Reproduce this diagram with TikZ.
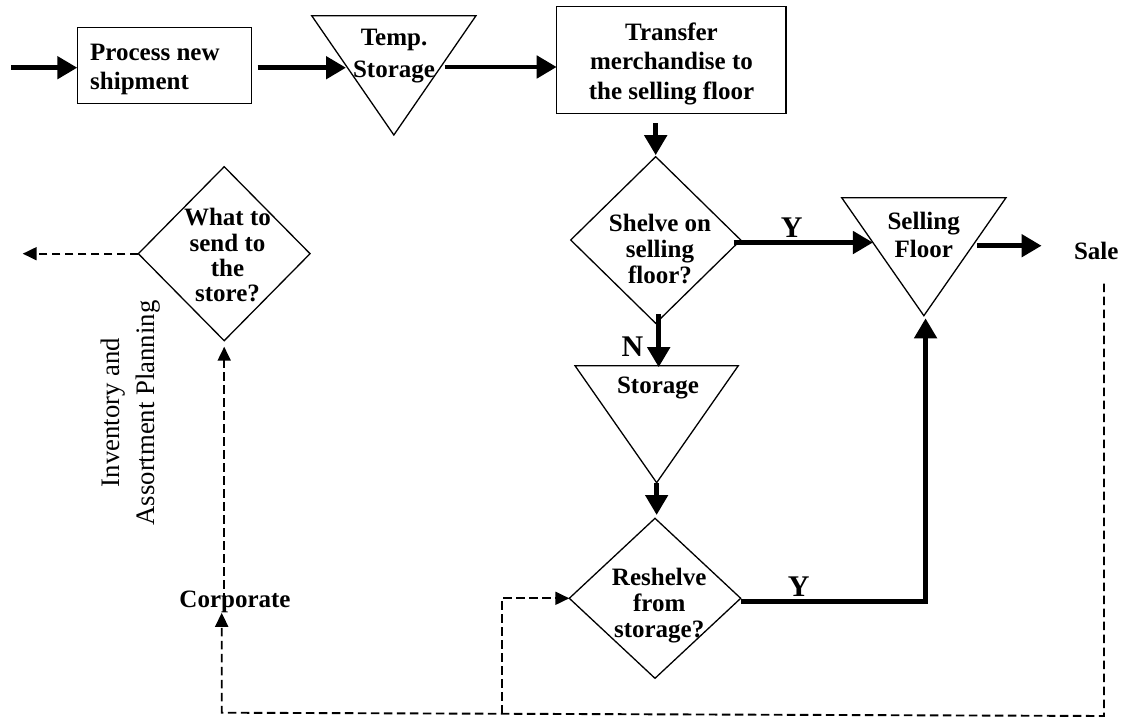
\documentclass[tikz,border=0pt]{standalone}
\usepackage{fontspec}
\setmainfont{Liberation Serif}
\usetikzlibrary{arrows.meta,calc}
\newcommand\tstrut{\rule{0pt}{20pt}}
\begin{document}
\begin{tikzpicture}[x=1pt,y=-1pt,
  holder/.style={inner sep=0pt, outer sep=0pt},
  shapeline/.style={draw=black, line width=1.3pt, line join=miter},
  boxnode/.style={draw=black, line width=1.3pt, inner sep=0pt, outer sep=0pt},
  tx/.style={font=\fontsize{25}{#1}\selectfont\bfseries, inner sep=0pt, align=center, anchor=north},
  tx/.default=28,
  txone/.style={font=\fontsize{25}{28}\selectfont\bfseries, inner sep=0pt, anchor=base},
  ynlab/.style={font=\fontsize{30}{32}\selectfont\bfseries, inner sep=0pt, anchor=base},
  sidelab/.style={font=\fontsize{26.7}{30}\selectfont, inner sep=0pt, anchor=base, rotate=90},
  solidarrow/.style={line width=4.8pt, -{Triangle[length=20pt,width=22pt]}},
  dasharrow/.style={line width=1.9pt, dash pattern=on 8.5pt off 4.5pt, -{Triangle[length=14pt,width=13pt]}},
]
\useasboundingbox (0,0) rectangle (1127,719);

% shapes
\node[boxnode, minimum width=174.4pt, minimum height=76pt] (box1) at (164.5,65.3) {};
\node[boxnode, minimum width=229.3pt, minimum height=106.6pt] (box3) at (671.35,60) {};
\node[holder, minimum width=164.3pt, minimum height=119.3pt] (temp) at (393.85,75.35) {};
\node[holder, minimum width=164.3pt, minimum height=118pt] (sell) at (923.85,256.7) {};
\node[holder, minimum width=163.3pt, minimum height=117pt] (stor) at (656.65,424.2) {};
\node[holder, minimum width=171.7pt, minimum height=174pt] (what) at (224.2,253.7) {};
\node[holder, minimum width=170pt, minimum height=166.6pt] (shelve) at (655.7,240) {};
\node[holder, minimum width=171.4pt, minimum height=160pt] (reshelve) at (655,598.3) {};

\draw[shapeline] (temp.north west) -- (temp.north east) -- (temp.south) -- cycle;
\draw[shapeline] (sell.north west) -- (sell.north east) -- (sell.south) -- cycle;
\draw[shapeline] (stor.north west) -- (stor.north east) -- (stor.south) -- cycle;
\draw[shapeline] (what.north) -- (what.east) -- (what.south) -- (what.west) -- cycle;
\draw[shapeline] (shelve.north) -- (shelve.east) -- (shelve.south) -- (shelve.west) -- cycle;
\draw[shapeline] (reshelve.north) -- (reshelve.east) -- (reshelve.south) -- (reshelve.west) -- cycle;

% texts
\node[tx=28.6, anchor=north west, align=left] (tbox1) at (90,40.7) {\tstrut Process new\\shipment};
\node[tx=31.6] (ttemp) at (394,25.7) {\tstrut Temp.\\Storage};
\node[tx=29.7] (tbox3) at (671.5,20) {\tstrut Transfer\\merchandise to\\the selling floor};
\node[tx=25.3] (twhat) at (227.5,205.7) {\tstrut What to\\send to\\the\\store?};
\node[tx=26] (tshelve) at (660,211) {\tstrut Shelve on\\selling\\floor?};
\node[tx=28.4] (tsell) at (923.7,209.3) {\tstrut Selling\\Floor};
\node[txone] (sale) at (1096.3,259.3) {Sale};
\node[txone] (tstor) at (658,393.3) {Storage};
\node[tx=25.8] (treshelve) at (659.2,565.7) {\tstrut Reshelve\\from\\storage?};
\node[txone] (corp) at (235,607.3) {Corporate};
\node[ynlab] (yone) at (791.7,237.3) {Y};
\node[ynlab] (nlab) at (632.5,356.7) {N};
\node[ynlab] (ytwo) at (798.8,596.7) {Y};
\node[sidelab] (sideone) at (119,412.5) {Inventory and};
\node[sidelab] (sidetwo) at (154,413) {Assortment Planning};

% solid flow
\coordinate (in) at (11,67.7);
\draw[solidarrow] (in) -- (in -| box1.west);
\coordinate (tempL) at ($(temp.north west)!0.436!(temp.south)$);
\draw[solidarrow] ($(box1.east |- tempL)+(6,0)$) -- ($(tempL)+(-1.5,0)$);
\coordinate (tempR) at ($(temp.north east)!0.43!(temp.south)$);
\draw[solidarrow] ($(tempR)+(4,0)$) -- (tempR -| box3.west);
\draw[solidarrow] ($(shelve.north |- box3.south)+(0,10)$) -- ($(shelve.north)+(0,-1.5)$);
\coordinate (sellL) at ($(sell.north west)!0.38!(sell.south)$);
\draw[solidarrow] ($(sellL -| shelve.east)+(-7,0)$) -- (sellL);
\coordinate (sellR) at ($(sell.north east)!0.407!(sell.south)$);
\draw[solidarrow] ($(sellR)+(4.5,0)$) -- ($(sellR -| sale.west)+(-32.3,0)$);
\draw[solidarrow] ($(shelve.south)+(3,-9)$) -- ($(shelve.south |- stor.north)+(3,1.5)$);
\draw[solidarrow] ($(stor.south)+(0,0.6)$) -- ($(stor.south |- reshelve.north)+(0,-3.3)$);
\draw[solidarrow] ($(reshelve.east)+(0,3)$) -| ($(sell.south)+(1.7,2.6)$);

% dashed information flow
\coordinate (out) at (22.7,253.7);
\draw[dasharrow] (what.west) -- (out);
\draw[dasharrow] (what.south |- corp.center) -- ($(what.south)+(0,6)$);
\coordinate (saleD) at ($(sale.south)+(7.7,24)$);
\coordinate (bR) at (1104,716);
\coordinate (bL) at (221.7,712.7);
\draw[dasharrow] (saleD) -- (bR) -- (bL) -- (bL |- corp.south);
\coordinate (bM) at ($(bL)!0.3174!(bR)$);
\draw[dasharrow] (bM) |- (reshelve.west);
\end{tikzpicture}
\end{document}
